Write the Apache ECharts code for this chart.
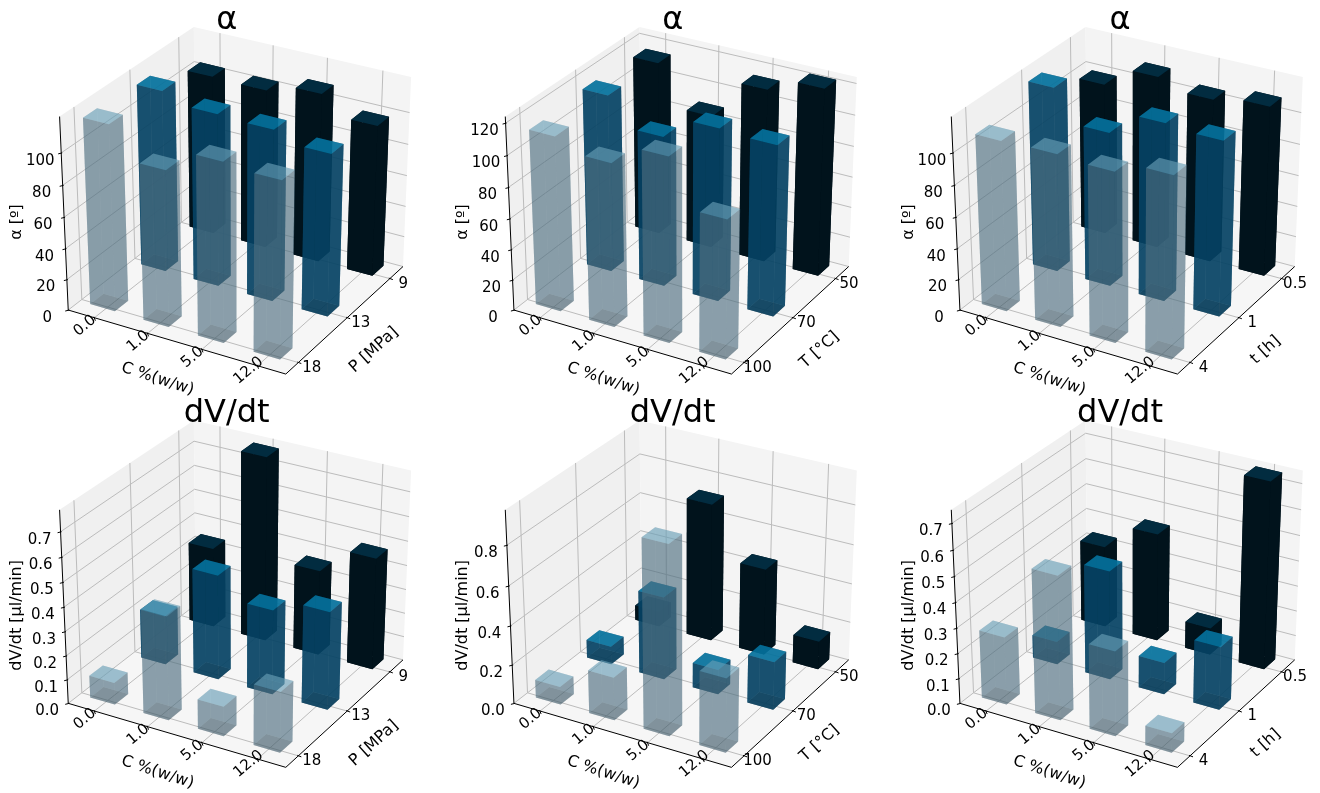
<!DOCTYPE html>
<html><head><meta charset="utf-8">
<style>html,body{margin:0;padding:0;background:#fff}#c{width:1320px;height:793px}</style>
<script src="https://cdn.jsdelivr.net/npm/echarts@6/dist/echarts.min.js"></script>
</head><body><div id="c"></div>
<script>
// ---- categories and tick labels
const concentration = ['0.0','1.0','5.0','12.0'];
const pressure = ['18','13','9'];
const temperature = ['100','70','50'];
const time = ['4','1','0.5'];
const alphaTicks100 = [0,20,40,60,80,100];
const alphaTicks120 = [0,20,40,60,80,100,120];
const rateTicks07 = [0,0.1,0.2,0.3,0.4,0.5,0.6,0.7];
const rateTicks08 = [0,0.2,0.4,0.6,0.8];
// ---- values: one row per depth level (front, middle, back), one value per concentration
const alphaP18 = [118,99,113,111];
const alphaP13 = [116,110,109,103];
const alphaP9  = [103,102.5,108.5,97];
const alphaT100 = [112.5,105,118,89];
const alphaT70  = [115,97.5,111.6,110];
const alphaT50  = [113.5,87.5,113,122];
const alphaH4  = [108,108.6,107,114];
const alphaH1  = [118,98.5,113,111];
const alphaH05 = [98,111,105,109];
const rateP18 = [0.092,0.428,0.123,0.25];
const rateP13 = [0.205,0.434,0.351,0.404];
const rateP9  = [0.334,0.767,0.355,0.465];
const rateT100 = [0.092,0.22,0.95,0.376];
const rateT70  = [0.094,0.425,0.128,0.247];
const rateT50  = [0.078,0.71,0.447,0.145];
const rateH4  = [0.268,0.563,0.333,0.077];
const rateH1  = [0.092,0.431,0.127,0.25];
const rateH05 = [0.327,0.431,0.108,0.74];

const panels = [
 {title:'α',zName:'α [º]',yName:'P [MPa]',yLabels:pressure,rows:[alphaP18,alphaP13,alphaP9],zMax:122,zTicks:alphaTicks100,dec:0,dx:0,dy:0},
 {title:'α',zName:'α [º]',yName:'T [°C]',yLabels:temperature,rows:[alphaT100,alphaT70,alphaT50],zMax:124,zTicks:alphaTicks120,dec:0,dx:445.7,dy:0},
 {title:'α',zName:'α [º]',yName:'t [h]',yLabels:time,rows:[alphaH4,alphaH1,alphaH05],zMax:122,zTicks:alphaTicks100,dec:0,dx:891.7,dy:0},
 {title:'dV/dt',zName:'dV/dt [µl/min]',yName:'P [MPa]',yLabels:pressure,rows:[rateP18,rateP13,rateP9],zMax:0.785,zTicks:rateTicks07,dec:1,dx:0,dy:393.3},
 {title:'dV/dt',zName:'dV/dt [µl/min]',yName:'T [°C]',yLabels:temperature,rows:[rateT100,rateT70,rateT50],zMax:0.97,zTicks:rateTicks08,dec:1,dx:445.7,dy:393.3},
 {title:'dV/dt',zName:'dV/dt [µl/min]',yName:'t [h]',yLabels:time,rows:[rateH4,rateH1,rateH05],zMax:0.75,zTicks:rateTicks07,dec:1,dx:891.7,dy:393.3}
];

// ---- 3D view (elevation 30°, azimuth -60°, camera distance 10)
const U=[0.75,0.433,0], V=[-0.2165,0.375,0.75], N=[0.433,-0.75,0.5], DIST=10, Z_BOX=0.975;
function project(x,y,z){
  const a=x-0.5,b=y-0.5,c=z*Z_BOX-0.5;
  const w=1-(N[0]*a+N[1]*b+N[2]*c)/DIST;
  return [(U[0]*a+U[1]*b)/w,(V[0]*a+V[1]*b+V[2]*c)/w];
}
// layout of the box in cube units
const X_TICK=i=>0.125+0.25*i, Y_TICK=j=>[0.10,0.505,0.88][j];
const BAR_X=i=>0.05+0.253*i, BAR_W=0.118, BAR_Y=j=>0.085+0.39*j, BAR_D=0.10;
const rowStyle=[
 {alpha:0.4,side:[78,111,128],top:[120,188,215],bottom:[43,60,69]},
 {alpha:0.72,side:[6,66,100],top:[4,126,172],bottom:[2,36,55]},
 {alpha:1,side:[1,19,28],top:[2,44,64],bottom:[1,14,21]}
];
const FONT='"DejaVu Sans"';
function fill(c,a){return 'rgba('+c[0]+','+c[1]+','+c[2]+','+a+')';}

function barRender(p,rowIdx){
  return function(params,api){
    const col=api.value(0),v=api.value(2)/p.zMax;
    const x0=BAR_X(col),x1=x0+BAR_W,y0=BAR_Y(rowIdx),y1=y0+BAR_D;
    const pt=(x,y,z)=>api.coord(project(x,y,z));
    const st=rowStyle[rowIdx],s=st.side;
    const face=(pts,c)=>({type:'polygon',silent:true,shape:{points:pts.map(q=>pt(q[0],q[1],q[2]))},style:{fill:fill(c,st.alpha)}});
    return {type:'group',children:[
      face([[x0,y0,0],[x1,y0,0],[x1,y1,0],[x0,y1,0]],st.bottom),
      face([[x0,y1,0],[x1,y1,0],[x1,y1,v],[x0,y1,v]],s),
      face([[x0,y0,0],[x0,y1,0],[x0,y1,v],[x0,y0,v]],s),
      face([[x0,y0,0],[x1,y0,0],[x1,y0,v],[x0,y0,v]],s),
      face([[x1,y0,0],[x1,y1,0],[x1,y1,v],[x1,y0,v]],s),
      face([[x0,y0,v],[x1,y0,v],[x1,y1,v],[x0,y1,v]],st.top)
    ]};
  };
}
function frameRender(p){
  return function(params,api){
    const pt=(x,y,z)=>api.coord(project(x,y,z));
    const kids=[];
    const poly=(pts,c)=>kids.push({type:'polygon',silent:true,shape:{points:pts},style:{fill:c}});
    const line=(a,b,c,w)=>kids.push({type:'line',silent:true,shape:{x1:a[0],y1:a[1],x2:b[0],y2:b[1]},style:{stroke:c,lineWidth:w}});
    const text=(t,q,dx,dy,size,rot)=>kids.push({type:'text',silent:true,x:q[0]+dx,y:q[1]+dy,rotation:rot*Math.PI/180,
      style:{x:0,y:0,text:t,fill:'#000',fontFamily:FONT,fontSize:size,align:'center',verticalAlign:'middle'}});
    poly([pt(0,0,0),pt(1,0,0),pt(1,1,0),pt(0,1,0)],'#f6f6f6');
    poly([pt(0,0,0),pt(0,1,0),pt(0,1,1),pt(0,0,1)],'#f0f0f0');
    poly([pt(0,1,0),pt(1,1,0),pt(1,1,1),pt(0,1,1)],'#f4f4f4');
    const G='#bcbcbc',W=1;
    concentration.forEach((l,i)=>{const t=X_TICK(i);
      line(pt(t,0,0),pt(t,1,0),G,W);line(pt(t,1,0),pt(t,1,1),G,W);});
    p.yLabels.forEach((l,j)=>{const t=Y_TICK(j);
      line(pt(0,t,0),pt(1,t,0),G,W);line(pt(0,t,0),pt(0,t,1),G,W);});
    p.zTicks.forEach(v=>{const z=v/p.zMax;
      line(pt(0,0,z),pt(0,1,z),G,W);line(pt(0,1,z),pt(1,1,z),G,W);});
    line(pt(0,0,0),pt(1,0,0),'#000',1);
    line(pt(1,0,0),pt(1,1,0),'#000',1);
    line(pt(0,0,0),pt(0,0,1),'#000',1);
    concentration.forEach((l,i)=>{const q=pt(X_TICK(i),0,0);
      line([q[0]-0.5,q[1]-1],[q[0]+1,q[1]+3],'#000',1);
      text(l,q,i===3?-9:-9.5,i===3?5:8,15,40);});
    p.yLabels.forEach((l,j)=>{const q=pt(1,Y_TICK(j),0);
      line([q[0]-1,q[1]-0.5],[q[0]+3,q[1]+1],'#000',1);
      text(l,q,13.5,5.5,15,0);});
    p.zTicks.forEach(v=>{const q=pt(0,0,v/p.zMax);
      line([q[0]+1,q[1]],[q[0]-3,q[1]+1],'#000',1);
      text(v.toFixed(p.dec),q,-21,8,15,0);});
    const origin=pt(0,0,0);
    text('C %(w/w)',origin,89.4,69,16,-18);
    text(p.yName,origin,305.7,40,16,42);
    text(p.zName,origin,-51,-88,16,90);
    return {type:'group',children:kids};
  };
}

const PX=290,PY=262,XMIN=-0.7,XMAX=0.65,YMIN=-0.75,YMAX=0.65;
const grid=[],xAxis=[],yAxis=[],series=[],title=[];
const titleX=[226.7,672.7,1120];
panels.forEach((p,k)=>{
  grid.push({left:35.2+p.dx,top:21.8+p.dy,width:(XMAX-XMIN)*PX,height:(YMAX-YMIN)*PY,show:false});
  xAxis.push({type:'value',gridIndex:k,min:XMIN,max:XMAX,show:false});
  yAxis.push({type:'value',gridIndex:k,min:YMIN,max:YMAX,show:false});
  title.push({text:p.title,left:titleX[k%3],top:(k<3?19:412)-18,textAlign:'center',padding:0,
    textStyle:{fontFamily:FONT,fontSize:32,fontWeight:'normal',color:'#000',lineHeight:40}});
  series.push({type:'custom',xAxisIndex:k,yAxisIndex:k,z:2,silent:true,clip:false,animation:false,
    data:[[0,0]],renderItem:frameRender(p)});
  [2,1,0].forEach(r=>{
    series.push({type:'custom',xAxisIndex:k,yAxisIndex:k,z:5-r+1,silent:true,clip:false,animation:false,
      name:p.title+' '+p.yLabels[r],
      data:p.rows[r].map((v,c)=>[c,r,v]),renderItem:barRender(p,r)});
  });
});
const chart=echarts.init(document.getElementById('c'),null,{renderer:'canvas'});
chart.setOption({backgroundColor:'#fff',animation:false,tooltip:{show:false},legend:{show:false},title,grid,xAxis,yAxis,series});
</script></body></html>
